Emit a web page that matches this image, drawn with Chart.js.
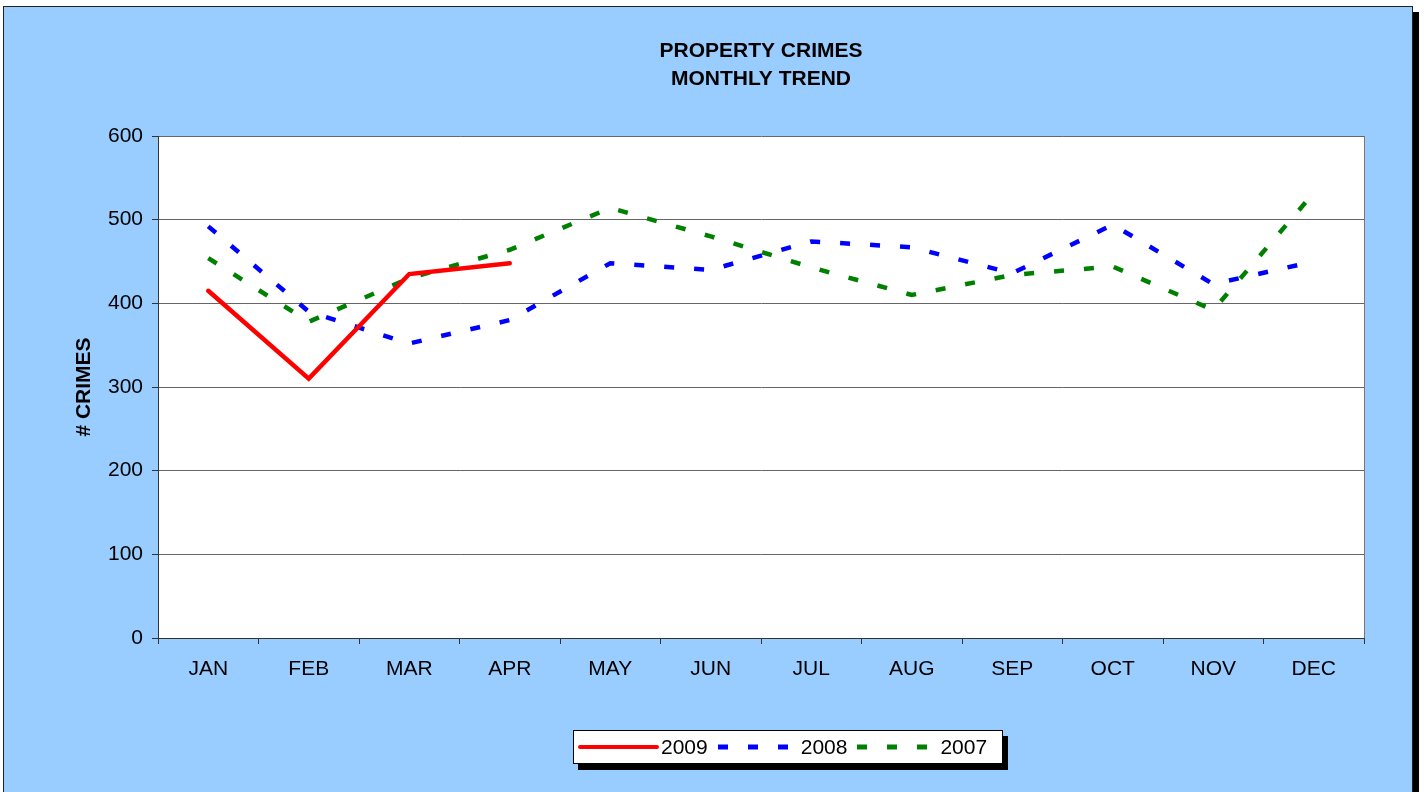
<!DOCTYPE html>
<html>
<head>
<meta charset="utf-8">
<script src="https://cdn.jsdelivr.net/npm/chart.js@4"></script>
<style>
  body { margin: 0; background: #fff; font-family: "Liberation Sans", Arial, sans-serif; }
  #frame {
    position: absolute; left: 3px; top: 6px;
    width: 1408px; height: 800px;
    background: #99ccff;
    border: 1px solid #222;
    box-shadow: 6px 6px 0 #000;
  }
  #chart { position: absolute; left: 0; top: 0; }
  #legend {
    position: absolute; left: 573px; top: 730px;
    width: 424px; height: 32px;
    background: #fff;
    border: 1px solid #000;
    box-shadow: 5px 6px 0 #000;
    display: flex; align-items: center;
    padding-left: 4px;
    font-size: 21px; color: #000;
  }
  #legend .item { display: flex; align-items: center; }
  #legend .item + .item { margin-left: 10px; }
  #legend span { margin-left: 2px; }
</style>
</head>
<body>
<div id="frame"></div>
<canvas id="chart" width="1424" height="792"></canvas>
<div id="legend"></div>

<script>
const months = ["JAN", "FEB", "MAR", "APR", "MAY", "JUN", "JUL", "AUG", "SEP", "OCT", "NOV", "DEC"];
const crimes2009 = [415, 310, 435, 448, null, null, null, null, null, null, null, null];
const crimes2008 = [492, 390, 352, 380, 448, 440, 474, 467, 436, 494, 423, 450];
const crimes2007 = [454, 378, 430, 464, 514, 480, 443, 410, 434, 444, 392, 532];
const yTicks = [0, 100, 200, 300, 400, 500, 600];

const FONT = "'Liberation Sans', Arial, sans-serif";

// white plot area + right edge
const plotArea = {
  id: "plotArea",
  beforeDraw(chart) {
    const a = chart.chartArea;
    const c = chart.ctx;
    c.save();
    c.fillStyle = "#fff";
    c.fillRect(a.left, a.top, a.right - a.left, a.bottom - a.top);
    c.restore();
  },
  beforeDatasetsDraw(chart) {
    const a = chart.chartArea;
    const c = chart.ctx;
    c.save();
    c.strokeStyle = "#777";
    c.lineWidth = 1;
    c.beginPath();
    c.moveTo(a.right + 0.5, a.top);
    c.lineTo(a.right + 0.5, a.bottom);
    c.stroke();
    c.restore();
  }
};

const chart = new Chart(document.getElementById("chart").getContext("2d"), {
  type: "line",
  data: {
    labels: months,
    datasets: [
      { label: "2009", data: crimes2009, borderColor: "#ff0000", borderWidth: 4.5, borderCapStyle: "round" },
      { label: "2008", data: crimes2008, borderColor: "#0000ff", borderWidth: 4.5, borderDash: [10, 20] },
      { label: "2007", data: crimes2007, borderColor: "#008000", borderWidth: 4.5, borderDash: [10, 20] }
    ]
  },
  options: {
    responsive: false,
    animation: false,
    devicePixelRatio: 1,
    layout: { padding: { left: 0, right: 60, top: 0, bottom: 0 } },
    elements: { point: { radius: 0 }, line: { tension: 0, fill: false } },
    plugins: {
      legend: { display: false },
      tooltip: { enabled: false },
      title: {
        display: true,
        fullSize: false,
        text: ["PROPERTY CRIMES", "MONTHLY TREND"],
        color: "#000",
        font: { family: FONT, size: 21, weight: "bold", lineHeight: 28 / 21 },
        padding: { top: 37, bottom: 43 }
      }
    },
    scales: {
      x: {
        afterFit: s => { s.height = 154; },
        offset: true,
        grid: { drawOnChartArea: false, offset: true, tickLength: 6, tickColor: "#333" },
        border: { color: "#333", width: 1 },
        ticks: { color: "#000", font: { family: FONT, size: 21 }, padding: 13, maxRotation: 0 }
      },
      y: {
        afterFit: s => { s.width = 158; },
        min: 0,
        max: 600,
        afterBuildTicks: s => { s.ticks = yTicks.map(v => ({ value: v })); },
        grid: { color: "#666", tickLength: 6, tickColor: "#333" },
        border: { color: "#333", width: 1 },
        ticks: { color: "#000", font: { family: FONT, size: 21 }, padding: 9 },
        title: {
          display: true,
          text: "# CRIMES",
          color: "#000",
          font: { family: FONT, size: 21, weight: "bold" },
          padding: { top: 72, bottom: 0 }
        }
      }
    }
  },
  plugins: [plotArea]
});

// LEGEND (built from the datasets)
const legend = document.getElementById("legend");
chart.data.datasets.forEach(ds => {
  const item = document.createElement("div");
  item.className = "item";
  const dash = ds.borderDash ? `stroke-dasharray="${ds.borderDash.join(" ")}"` : "";
  const cap = ds.borderDash ? "butt" : "round";
  item.innerHTML =
    `<svg width="81" height="30"><line x1="${ds.borderDash ? 0 : 2}" y1="15" x2="${ds.borderDash ? 81 : 79}" y2="15" ` +
    `stroke="${ds.borderColor}" stroke-width="${ds.borderDash ? 5 : 4}" stroke-linecap="${cap}" ${dash}/></svg>` +
    `<span>${ds.label}</span>`;
  legend.appendChild(item);
});
</script>
</body>
</html>
